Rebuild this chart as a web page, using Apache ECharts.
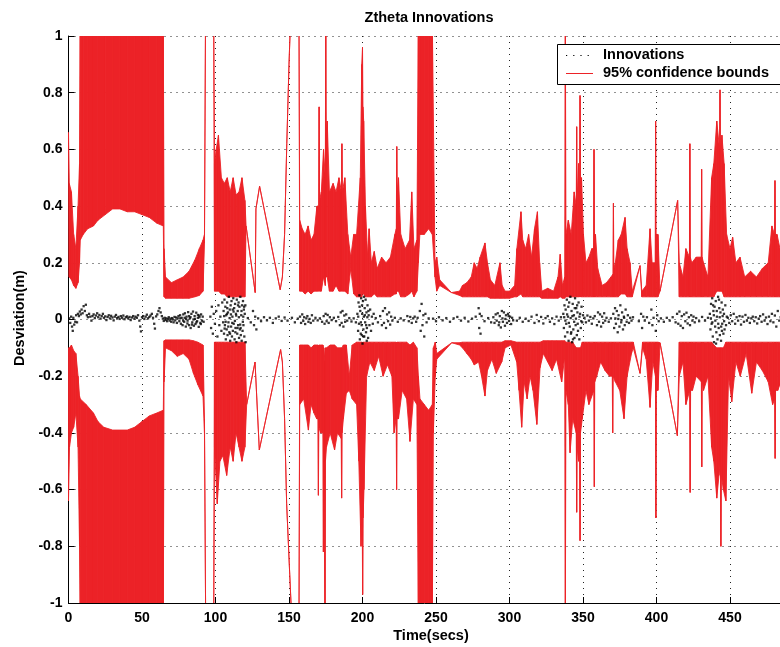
<!DOCTYPE html>
<html>
<head>
<meta charset="utf-8">
<script src="https://cdn.jsdelivr.net/npm/echarts@6/dist/echarts.min.js"></script>
<style>html,body{margin:0;padding:0;background:#fff;}#c{width:780px;height:647px;}</style>
</head>
<body>
<div id="c"></div>
<script>
// ---- data ----
const xTicks = [0, 50, 100, 150, 200, 250, 300, 350, 400, 450, 500];
const yTicks = [-1, -0.8, -0.6, -0.4, -0.2, 0, 0.2, 0.4, 0.6, 0.8, 1];

// upper 95% bound: [time, inner edge of red trace, outer edge of red trace]
const upperBound = [
[0,0.62,0.66],[0.5,0.15,0.48],[2,0.14,0.45],[3.5,0.12,0.3],[5,0.11,0.25],[6.5,0.13,0.4],[7.5,0.2,0.55],
[8,0.28,1.05],[10,0.3,1.05],[13,0.32,1.05],[17,0.33,1.05],[20,0.35,1.05],[25,0.37,1.05],[30,0.39,1.05],
[35,0.39,1.05],[40,0.38,1.05],[45,0.38,1.05],[50,0.37,1.05],[55,0.36,1.05],[60,0.34,1.05],[64.5,0.33,1.05],
[65,0.08,0.25],[66,0.075,0.15],[70,0.075,0.13],[74,0.075,0.14],[78,0.075,0.15],[82,0.075,0.17],[86,0.08,0.21],
[89,0.085,0.25],[91.5,0.1,0.28],[92.5,0.27,0.3],[93.2,1.05,1.05],[98.8,1.05,1.05],
[99.3,0.1,0.55],[100.5,0.1,0.6],[102,0.1,0.65],[104,0.09,0.5],[106,0.09,0.48],[108,0.08,0.5],[110,0.08,0.45],
[112,0.08,0.5],[114,0.08,0.44],[116,0.08,0.45],[118,0.08,0.5],[120,0.08,0.42],
[120.8,0.33,0.33],[127,0.095,0.095],[127.5,0.39,0.39],[130,0.47,0.47],[144,0.105,0.105],[145.5,0.15,0.15],
[147,0.3,0.3],[148.5,0.62,0.62],[150,0.9,0.9],[151,1.05,1.05],[156.8,1.05,1.05],
[157.3,0.1,0.35],[159,0.1,0.32],[161,0.09,0.3],[163,0.1,0.33],[165,0.09,0.28],[167,0.1,0.3],[169,0.1,0.4],
[170.2,0.1,0.4],[170.5,0.12,0.75],[170.8,0.1,0.42],[172,0.1,0.45],[173.5,0.15,0.6],[174.7,0.12,0.5],[175,0.2,1.05],
[175.3,0.15,0.65],[176,0.15,0.7],[177.5,0.1,0.45],[180,0.1,0.48],[182,0.12,0.45],[184,0.1,0.5],[185.7,0.1,0.45],
[186,0.12,0.62],[186.3,0.1,0.45],[188,0.1,0.5],[190,0.09,0.3],[192,0.18,0.22],[194,0.09,0.3],
[196,0.08,0.3],[198.5,0.08,0.5],[199.5,0.08,0.9],[200,0.1,0.96],[200.3,0.09,0.75],[200.8,0.09,0.7],[202,0.08,0.4],
[203.5,0.08,0.22],[204.5,0.08,0.32],[206,0.08,0.2],[208,0.09,0.24],[210,0.08,0.18],[213,0.08,0.22],[216,0.08,0.2],
[219,0.08,0.22],[222,0.09,0.3],[223,0.09,0.32],[223.3,0.1,0.61],[223.6,0.1,0.45],[224.5,0.1,0.5],[226,0.08,0.3],
[229,0.08,0.25],[232,0.09,0.28],[233.5,0.1,0.45],
[235,0.08,0.25],[237,0.1,0.28],[238,0.2,1.05],[239,0.3,1.05],[242,0.3,1.05],[245,0.32,1.05],[247.5,0.3,1.05],
[249.3,0.15,0.2],[250.5,0.1,0.22],[252.5,0.12,0.14],[260.5,0.095,0.095],
[266,0.085,0.1],[268,0.08,0.12],[271,0.08,0.13],[274,0.08,0.15],[276,0.08,0.2],[278,0.08,0.18],[280,0.08,0.22],
[283.3,0.08,0.27],[285,0.08,0.2],[287,0.075,0.14],[290,0.075,0.12],[293.5,0.075,0.2],[295,0.075,0.12],
[297,0.075,0.1],[300,0.075,0.1],[303.5,0.08,0.12],[305,0.08,0.25],[307.8,0.09,0.38],[309,0.08,0.28],
[311,0.08,0.25],[313,0.08,0.3],[315,0.08,0.22],[317,0.08,0.32],[319,0.08,0.38],[320.5,0.08,0.2],[322,0.075,0.1],
[326,0.075,0.11],[330,0.075,0.1],[333,0.075,0.15],[334.5,0.08,0.23],[336,0.075,0.12],[337.6,0.075,0.15],
[338,0.08,1.05],[338.4,0.08,0.3],[340,0.08,0.35],[342,0.08,0.3],[344,0.08,0.45],[345.4,0.08,0.4],[345.7,0.08,0.68],
[346,0.08,0.42],[347,0.08,0.55],[347.7,0.08,0.45],[348,0.09,0.79],[348.3,0.08,0.5],[349,0.08,0.5],[350.3,0.08,0.3],
[352,0.08,0.2],[354,0.08,0.22],[356,0.08,0.25],[357.2,0.08,0.25],[357.5,0.08,0.6],[357.8,0.08,0.28],
[358.5,0.08,0.3],[360,0.08,0.18],[363,0.08,0.12],[366,0.08,0.13],[369,0.08,0.15],[370.4,0.08,0.16],[370.7,0.08,0.41],
[371,0.08,0.18],[372,0.08,0.2],[374,0.08,0.28],[376,0.09,0.3],[378.6,0.09,0.36],[380,0.08,0.25],[382,0.08,0.2],
[383.5,0.08,0.1],[388.8,0.19,0.19],[390,0.08,0.1],[393,0.08,0.12],[395.6,0.08,0.32],[397,0.08,0.2],[399.1,0.08,0.2],
[399.4,0.08,0.7],[399.7,0.08,0.3],[401,0.08,0.3],[402.4,0.1,0.1],
[414.4,0.42,0.42],[415.5,0.08,0.2],[418,0.08,0.15],[420,0.08,0.25],[422.4,0.08,0.22],[422.7,0.08,0.62],[423,0.08,0.22],
[424,0.08,0.2],[427,0.08,0.22],[430.4,0.08,0.22],[430.7,0.08,0.53],[431,0.08,0.22],[432,0.08,0.2],[435,0.08,0.15],
[437.5,0.08,0.5],[439,0.08,0.55],[441,0.1,0.7],[442.9,0.1,0.6],[443.2,0.1,0.81],[443.5,0.1,0.6],
[444.5,0.1,0.65],[446,0.08,0.55],[447.7,0.08,0.3],[450,0.08,0.25],[451.8,0.08,0.29],[454,0.08,0.2],[456.8,0.08,0.22],
[460,0.08,0.15],[464,0.08,0.17],[468,0.08,0.15],[472,0.08,0.18],[476,0.08,0.2],[478.5,0.08,0.33],[480.3,0.08,0.3],
[480.6,0.08,0.49],[480.9,0.08,0.3],[482,0.08,0.3],[484,0.08,0.25],[488,0.08,0.2],[492,0.08,0.22]
];

// lower 95% bound: [time, inner edge, outer edge]
const lowerBound = [
[0,-0.1,-0.64],[0.7,-0.1,-0.45],[2,-0.09,-0.4],[3.5,-0.11,-0.38],[5,-0.12,-0.33],[6.5,-0.2,-0.45],[7.5,-0.27,-0.8],
[8,-0.28,-1.05],[12,-0.3,-1.05],[17,-0.33,-1.05],[20,-0.36,-1.05],[24,-0.38,-1.05],[30,-0.39,-1.05],[35,-0.39,-1.05],
[40,-0.39,-1.05],[45,-0.38,-1.05],[50,-0.36,-1.05],[55,-0.34,-1.05],[60,-0.33,-1.05],[64.5,-0.32,-1.05],
[65,-0.075,-0.22],[66,-0.072,-0.1],[70,-0.072,-0.11],[74,-0.072,-0.13],[78,-0.072,-0.12],[82,-0.072,-0.14],
[85,-0.075,-0.19],[88,-0.08,-0.23],[91.5,-0.09,-0.27],[92.5,-0.35,-0.4],[93.3,-1.05,-1.05],[98.8,-1.05,-1.05],
[99.3,-0.08,-0.45],[101.2,-0.08,-0.65],[103,-0.08,-0.5],[105,-0.08,-0.48],[107.6,-0.08,-0.55],[110,-0.08,-0.45],
[112,-0.08,-0.5],[114,-0.08,-0.4],[116,-0.08,-0.45],[118,-0.08,-0.5],[120,-0.08,-0.45],
[121.2,-0.3,-0.3],[126.9,-0.15,-0.15],[129.8,-0.46,-0.46],[144.3,-0.106,-0.106],[145.5,-0.15,-0.15],
[147,-0.35,-0.35],[148.4,-0.65,-0.65],[150.5,-0.9,-0.9],[151.8,-1.05,-1.05],[156.8,-1.05,-1.05],
[157.3,-0.09,-0.3],[160,-0.09,-0.28],[163.2,-0.09,-0.39],[165,-0.1,-0.3],[167,-0.09,-0.33],[168.8,-0.09,-0.35],
[169.7,-0.09,-0.35],[170,-0.1,-0.62],[170.3,-0.09,-0.38],[171.5,-0.09,-0.4],[173.1,-0.09,-0.4],[173.4,-0.1,-0.82],
[173.7,-0.1,-0.5],[174.5,-0.15,-1.05],[174.8,-0.1,-0.5],[175.5,-0.1,-0.45],[178,-0.09,-0.4],
[181,-0.09,-0.46],[183,-0.1,-0.4],[185.5,-0.1,-0.42],[185.8,-0.1,-0.63],[186.1,-0.1,-0.4],[187,-0.09,-0.35],
[189,-0.09,-0.26],[191,-0.2,-0.25],[193,-0.09,-0.28],[196,-0.08,-0.3],[197.5,-0.08,-0.5],[199,-0.08,-0.8],
[199.8,-0.08,-0.7],[200.1,-0.1,-0.97],[200.4,-0.08,-0.7],[201,-0.08,-0.6],
[202.8,-0.08,-0.2],[205,-0.08,-0.15],[208,-0.08,-0.18],[211,-0.08,-0.13],[214,-0.08,-0.2],[217,-0.08,-0.16],
[220,-0.08,-0.2],[221.5,-0.08,-0.4],[222.9,-0.08,-0.35],[223.2,-0.1,-0.6],[223.5,-0.08,-0.35],[224.5,-0.08,-0.35],
[227,-0.08,-0.25],[230,-0.08,-0.28],
[232.3,-0.09,-0.43],[234.6,-0.08,-0.28],[237,-0.1,-0.3],[238,-0.2,-1.05],[239.1,-0.28,-1.05],[242,-0.3,-1.05],
[245,-0.32,-1.05],[247.5,-0.3,-1.05],[248.2,-0.1,-0.4],[249.5,-0.08,-0.2],[250.5,-0.12,-0.14],[260.7,-0.082,-0.082],
[266,-0.082,-0.09],[268,-0.08,-0.1],[271,-0.08,-0.12],[274,-0.08,-0.14],[276,-0.08,-0.16],[279,-0.08,-0.15],
[281,-0.08,-0.2],[283.3,-0.08,-0.27],[285,-0.08,-0.18],[288,-0.08,-0.14],[291,-0.08,-0.19],[294.7,-0.08,-0.15],
[297,-0.075,-0.1],[301,-0.075,-0.09],[304.9,-0.08,-0.15],[306.5,-0.08,-0.25],[308.3,-0.08,-0.38],[310,-0.08,-0.22],
[312,-0.08,-0.28],[314,-0.08,-0.2],[316,-0.08,-0.25],[318.6,-0.08,-0.37],[320.8,-0.08,-0.17],[323,-0.075,-0.12],
[326,-0.075,-0.15],[329,-0.075,-0.18],[332,-0.075,-0.14],[335.5,-0.075,-0.22],[337.6,-0.075,-0.13],
[338,-0.08,-1.05],[338.4,-0.08,-0.25],[340,-0.08,-0.3],[341.2,-0.08,-0.47],[343,-0.08,-0.35],[345.4,-0.1,-0.4],
[345.7,-0.1,-0.68],[346,-0.1,-0.45],[347,-0.1,-0.5],[347.7,-0.1,-0.45],[348,-0.1,-0.78],[348.3,-0.1,-0.4],
[349.5,-0.08,-0.35],[352,-0.08,-0.25],[354,-0.08,-0.3],[357.4,-0.08,-0.25],[357.7,-0.08,-0.59],[358,-0.08,-0.22],
[359.3,-0.08,-0.2],[362,-0.08,-0.15],[365,-0.08,-0.18],[368,-0.08,-0.2],[369.9,-0.08,-0.2],[370.2,-0.08,-0.4],
[370.5,-0.08,-0.2],[372,-0.08,-0.22],[375,-0.08,-0.25],[377.9,-0.08,-0.35],[380,-0.08,-0.2],[383,-0.08,-0.12],
[384.2,-0.08,-0.1],[388.8,-0.19,-0.19],[390.5,-0.08,-0.1],[393,-0.08,-0.14],[395.6,-0.08,-0.31],[397.5,-0.08,-0.15],
[399.3,-0.08,-0.2],[399.6,-0.08,-0.7],[399.9,-0.08,-0.25],[401,-0.08,-0.25],
[402.4,-0.082,-0.082],[414.2,-0.41,-0.41],[415.5,-0.08,-0.2],[418,-0.08,-0.15],[420,-0.08,-0.3],[422.6,-0.08,-0.25],
[422.9,-0.08,-0.61],[423.2,-0.08,-0.25],[424.5,-0.08,-0.25],[427,-0.08,-0.2],[430.5,-0.08,-0.22],[430.8,-0.08,-0.52],
[431.1,-0.08,-0.22],[432,-0.08,-0.25],[435,-0.08,-0.2],[437.5,-0.08,-0.45],
[439,-0.09,-0.5],[441,-0.1,-0.63],[442.5,-0.1,-0.55],[443.5,-0.1,-0.5],[443.8,-0.1,-0.8],[444.1,-0.1,-0.55],
[445.5,-0.1,-0.6],[447.2,-0.08,-0.64],
[449,-0.08,-0.2],[451.2,-0.08,-0.29],[454,-0.08,-0.15],[457,-0.08,-0.2],[461,-0.08,-0.12],[464.8,-0.08,-0.26],
[468,-0.08,-0.15],[472,-0.08,-0.18],[476,-0.08,-0.22],[479,-0.08,-0.3],[480.4,-0.08,-0.28],[480.7,-0.08,-0.49],
[481,-0.08,-0.25],[482.5,-0.08,-0.25],[486,-0.08,-0.2],[492,-0.08,-0.22]
];

// innovations (black dots): [time, deviation]
const innovations = [
[0.5,0.004],[1.2,-0.012],[1.8,0.01],[2.4,-0.025],[2.9,-0.04],[3.3,0.006],[3.9,-0.018],[4.6,-0.008],[5.2,0.015],[5.8,-0.01],
[6.4,0.02],[7.1,0.012],[7.7,0.028],[8.3,0.018],[8.9,0.035],[9.6,0.022],[10.3,0.047],[11.1,0.03],[11.8,0.052],[12.5,0.015],
[13.2,0.008],[14,0.02],[14.8,0.01],[15.6,-0.004],[16.3,0.012],[17.1,0.018],[17.9,0.005],[18.7,0.014],[19.5,0.022],[20.2,0.008],
[21,0.016],[21.8,0.003],[22.6,0.012],[23.4,0.02],[24.1,0.006],[25,0.011],[25.8,-0.002],[26.6,0.009],[27.4,0.015],[28.2,0.004],
[29,0.013],[29.9,0.007],[30.7,-0.003],[31.5,0.01],[32.3,0.016],[33.1,0.005],[34,0.009],[34.8,0.002],[35.6,0.012],[36.5,0.006],
[37.3,0.014],[38.1,0.001],[39,0.008],[39.8,0.011],[40.6,0.004],[41.5,0.009],[42.3,-0.002],[43.1,0.007],[44,0.012],[44.8,0.003],
[45.6,0.01],[46.5,0.006],[47.3,0.015],[48.2,-0.004],[48.8,-0.025],[49.3,-0.042],[50,0.008],[50.8,0.012],[51.6,0.002],[52.5,0.01],
[53.3,0.017],[54.1,0.004],[55,0.009],[55.8,0.014],[56.7,0.02],[57.5,0.006],[58.3,-0.015],[58.8,-0.032],[59.6,0.011],[60.4,0.018],
[61.2,0.03],[61.9,0.04],[62.7,0.025],[63.5,0.012],[64.2,0.003],
[64.8,-0.005],[65.4,0.006],[66,-0.002],[66.5,0.004],[67.1,-0.006],[67.7,0.002],[68.2,0.008],[68.8,-0.004],[69.3,0.003],[69.9,-0.008],
[70.4,0.005],[71,0.0],[71.5,-0.01],[72.1,0.009],[72.6,-0.003],[73.2,0.007],[73.7,-0.012],[74.3,0.004],[74.8,0.012],[75.4,-0.006],
[75.9,0.015],[76.5,-0.015],[77,0.006],[77.6,-0.02],[78.1,0.018],[78.7,-0.008],[79.2,0.022],[79.8,-0.025],[80.3,0.01],[80.9,-0.014],
[81.4,0.026],[82,-0.02],[82.5,0.004],[83.1,-0.03],[83.6,0.02],[84.2,-0.01],[84.7,0.028],[85.3,-0.022],[85.8,0.012],[86.4,-0.016],
[86.9,0.024],[87.5,-0.006],[88,0.016],[88.6,-0.026],[89.1,0.008],[89.7,-0.012],[90.2,0.018],[90.8,-0.004],[91.3,0.01],[91.9,-0.008],
[76,0.004],[78,-0.004],[80,0.002],[82,0.012],[84,-0.018],[86,0.002],[88,0.006],[90,-0.016],[79,0.006],[81,-0.004],[83,0.008],
[85,0.0],[87,-0.01],[89,0.014],
[96.5,0.01],[97,-0.03],[97.5,0.045],[98.2,-0.05],[98.8,0.02],[99.6,-0.015],[100.5,0.03],[101.3,-0.06],[102,0.05],[102.6,-0.02],
[103.3,0.01],[104,-0.04],[104.6,0.06],[105.2,-0.01],
[105.5,0.03],[105.8,-0.05],[106.1,0.07],[106.4,-0.02],[106.7,0.045],[107,-0.07],[107.3,0.015],[107.6,-0.035],[107.9,0.06],[108.2,-0.055],
[108.5,0.025],[108.8,-0.01],[109.1,0.08],[109.4,-0.045],[109.7,0.035],[110,-0.075],[110.3,0.05],[110.6,-0.025],[110.9,0.065],[111.2,-0.06],
[111.5,0.01],[111.8,-0.04],[112.1,0.075],[112.4,-0.015],[112.7,0.04],[113,-0.07],[113.3,0.055],[113.6,-0.03],[113.9,0.02],[114.2,-0.08],
[114.5,0.07],[114.8,-0.05],[115.1,0.03],[115.4,-0.02],[115.7,0.06],[116,-0.065],[116.3,0.045],[116.6,-0.035],[116.9,0.08],[117.2,-0.055],
[117.5,0.015],[117.8,-0.075],[118.1,0.05],[118.4,-0.04],[118.7,0.065],[119,-0.02],[119.3,0.035],[119.6,-0.06],[119.9,0.02],
[105.9,0.012],[106.9,-0.008],[107.8,0.02],[108.7,-0.025],[109.6,0.005],[110.5,0.018],[111.4,-0.012],[112.3,0.028],[113.2,-0.005],
[114.1,0.014],[115,-0.03],[115.9,0.008],[116.8,-0.018],[117.7,0.03],[118.6,-0.008],[119.5,0.045],[106.2,-0.032],[108,0.04],
[109.9,-0.05],[111.7,0.035],[113.5,-0.045],[115.3,0.05],[117.1,-0.03],[118.9,0.01],[120.5,-0.08],[120.3,0.05],
[122,0.005],[124,-0.01],[125.5,0.03],[126.2,-0.02],[127,0.01],[127.8,-0.035],[129,0.004],[131,-0.006],[133,0.008],[135,-0.003],
[137,0.006],[139,-0.012],[141,0.004],[143,0.01],[145,-0.005],[147,0.007],[149,-0.004],[152,0.006],[154,-0.01],[156,0.003],
[157.5,0.01],[158.2,-0.012],[159,0.018],[159.7,-0.005],[160.3,0.008],[161,-0.016],[161.8,0.004],[162.5,0.012],[163.2,-0.008],
[164,0.002],[164.8,-0.012],[165.6,0.015],[166.5,-0.004],[168,0.006],[169.5,-0.003],
[171,0.004],[172.5,-0.008],[173.6,0.012],[174.2,-0.015],[174.9,0.02],[175.6,-0.006],[176.3,0.016],[177,-0.012],[177.8,0.008],
[179,-0.002],[180.5,0.006],[182,-0.006],[183.5,0.009],[184.6,-0.02],[185.2,0.025],[185.8,-0.012],[186.4,0.03],[187,-0.025],
[187.6,0.014],[188.2,-0.008],[188.9,0.018],[189.6,-0.004],[191,0.005],[192.5,-0.007],[194,0.004],[195.5,-0.01],
[196.5,0.02],[197,-0.04],[197.3,0.06],[197.6,-0.015],[197.9,0.085],[198.2,-0.07],[198.5,0.03],[198.8,-0.05],[199.1,0.075],[199.4,-0.02],
[199.7,0.05],[200,-0.085],[200.3,0.065],[200.6,-0.035],[200.9,0.01],[201.2,-0.06],[201.5,0.04],[201.8,-0.01],[202.1,0.07],[202.4,-0.045],
[202.7,0.025],[203,-0.03],[203.4,0.05],[203.8,-0.065],[204.2,0.015],[204.7,-0.02],[205.2,0.035],[205.8,-0.04],[206.4,0.01],[207,-0.015],
[207.6,0.02],[197.1,0.01],[198,0.045],[198.9,-0.01],[199.8,0.02],[200.7,-0.06],[201.6,0.015],[202.5,-0.02],[203.3,0.008],[204,0.03],
[199.5,-0.055],[201,0.08],[202.9,-0.075],
[209,0.005],[210.5,-0.01],[212,0.012],[213.2,-0.02],[213.9,0.03],[214.6,-0.012],[215.3,0.04],[216,-0.03],[216.7,0.018],[217.4,-0.006],
[218.1,0.025],[218.8,-0.018],[219.5,0.01],[220.3,-0.004],[222,0.006],[224,-0.008],[226,0.004],[228,-0.003],[230.5,0.012],[231.5,-0.006],
[232.5,0.009],[233.5,-0.012],[234.5,0.004],[235.5,0.01],[236.5,-0.008],[237.5,0.006],[239,0.03],[239.6,-0.04],[240.2,0.055],[240.8,-0.02],
[241.4,0.015],[242,-0.06],[242.8,0.02],[243.6,-0.01],[245,0.004],
[248,0.003],[250,-0.006],[252,0.008],[254.5,-0.003],[257,0.005],[259.5,-0.008],[262,0.004],[264.5,0.009],[267,-0.004],[269.5,0.006],
[272,-0.007],[274.5,0.003],[277,0.01],[279,0.04],[279.4,-0.03],[279.8,0.02],[280.3,-0.05],[281,0.012],[283,-0.006],[285.5,0.005],[287.5,-0.01],
[289,0.008],[289.8,-0.012],[290.6,0.018],[291.3,-0.004],[292,0.022],[292.7,-0.02],[293.4,0.012],[294.1,-0.028],[294.8,0.03],[295.5,-0.008],
[296.2,0.025],[296.9,-0.022],[297.6,0.015],[298.3,-0.012],[299,0.02],[299.7,-0.005],[300.4,0.01],[301.1,-0.016],[301.8,0.006],[302.5,-0.003],
[295.2,0.004],[297.2,0.002],[293,-0.01],[299.4,0.012],
[305,-0.004],[307,0.006],[309,-0.008],[311,0.003],[313,-0.005],[315,0.01],[317,-0.012],[318.5,0.016],[320,-0.006],[321.5,0.009],
[323,-0.014],[324.5,0.005],[326,0.012],[327.5,-0.008],[329,0.004],[330.5,-0.016],[332,0.01],[333.5,-0.004],[335,0.008],
[336.6,0.02],[337,-0.03],[337.4,0.05],[337.8,-0.06],[338.2,0.035],[338.6,-0.015],[339,0.07],[339.4,-0.045],[339.8,0.01],[340.2,-0.075],
[340.6,0.06],[341,-0.025],[341.4,0.08],[341.8,-0.05],[342.2,0.03],[342.6,-0.08],[343,0.055],[343.4,-0.035],[343.8,0.015],[344.2,-0.065],
[344.6,0.075],[345,-0.02],[345.4,0.04],[345.8,-0.055],[346.2,0.025],[346.6,-0.04],[347,0.06],[347.5,-0.07],[348,0.02],[348.5,-0.03],
[349,0.045],[349.5,-0.01],[350,0.015],[337.2,0.008],[338,-0.004],[339.2,0.018],[340.4,-0.012],[341.6,0.005],[342.8,0.012],[344,-0.008],
[345.2,0.003],[346.4,-0.015],[347.6,0.01],[348.8,-0.006],[340,0.045],[342,-0.045],[344.4,0.04],[346,0.05],[343.2,-0.07],
[351,0.006],[352,-0.01],[353,0.014],[354,-0.004],[355,0.009],[356,-0.015],[357,0.004],[358,0.012],[359.5,-0.02],[360.2,0.025],
[360.9,-0.008],[361.6,0.018],[362.3,-0.025],[363,0.01],[363.7,-0.012],[364.4,0.022],[365.1,-0.004],[366,0.006],[367.5,-0.008],[369,0.004],
[370.6,0.02],[371.2,-0.03],[371.8,0.04],[372.4,-0.015],[373,0.03],[373.6,-0.045],[374.2,0.015],[374.8,-0.025],[375.4,0.05],[376,-0.01],
[376.6,0.025],[377.2,-0.035],[377.8,0.01],[378.4,-0.02],[379,0.035],[379.7,-0.008],[380.5,0.015],[381.3,-0.012],[382.1,0.006],[383,-0.004],
[384,0.008],[372,0.004],[374,0.002],[376.2,-0.002],[378,0.006],
[388,-0.006],[389.5,0.02],[390.2,-0.03],[391,0.01],[392,-0.004],[393.5,0.008],[395,-0.012],[396.5,0.035],[397.2,-0.02],[398,0.006],
[399.5,-0.04],[400.5,0.015],[401.5,-0.006],[403,0.004],[405,-0.008],[407,0.006],[409,-0.004],[411,0.008],[413,-0.01],[414,0.02],
[414.8,-0.015],[415.6,0.028],[416.4,-0.022],[417.2,0.012],[418,-0.03],[418.8,0.018],[419.6,-0.006],[420.4,0.024],[421.2,-0.014],[422,0.008],
[422.8,-0.02],[423.6,0.015],[424.4,-0.004],[425.2,0.01],[426,-0.01],[427,0.005],[429,-0.006],[431,0.009],[433,-0.004],[435,0.006],
[436.3,0.02],[436.7,-0.035],[437.1,0.055],[437.5,-0.015],[437.9,0.075],[438.3,-0.06],[438.7,0.03],[439.1,-0.08],[439.5,0.045],[439.9,-0.025],
[440.3,0.065],[440.7,-0.045],[441.1,0.01],[441.5,-0.07],[441.9,0.08],[442.3,-0.03],[442.7,0.04],[443.1,-0.055],[443.5,0.025],[443.9,-0.075],
[444.3,0.06],[444.7,-0.015],[445.1,0.035],[445.5,-0.05],[445.9,0.02],[446.3,-0.035],[446.8,0.05],[447.3,-0.02],[447.8,0.01],
[437,0.004],[438,-0.01],[439,0.015],[440,-0.004],[441,0.03],[442,-0.015],[443,0.008],[444,-0.025],[445,0.012],[446,-0.006],
[440.5,-0.085],[442.5,0.07],[444.5,-0.04],[438.5,0.05],
[448.5,0.006],[449.5,-0.012],[450.5,0.015],[451.5,-0.006],[452.5,0.02],[453.5,-0.015],[454.5,0.008],[455.5,-0.004],[456.5,0.012],[457.5,-0.018],
[458.5,0.01],[459.5,-0.008],[460.5,0.016],[461.5,-0.004],[462.5,0.006],[463.5,-0.012],[464.5,0.004],[465.5,0.01],[466.5,-0.006],[467.5,0.008],
[468.5,-0.014],[469.5,0.003],[470.5,0.012],[471.5,-0.008],[472.5,0.018],[473.5,-0.004],[474.5,0.007],[475.5,-0.016],[476.5,0.01],[477.5,-0.006],
[478.5,0.02],[479.5,-0.01],[480.5,0.014],[481.5,-0.025],[482.5,0.03],[483.5,-0.004],[484.5,0.008]
];

const titleText = 'Ztheta Innovations';
const xName = 'Time(secs)';
const yName = 'Desviation(m)';
const legendNames = ['Innovations', '95% confidence bounds'];

// ---- drawing ----
const RED = '#ec2227';
const FONT = '"Liberation Sans", Arial, Helvetica, sans-serif';
const chart = echarts.init(document.getElementById('c'), null, {renderer: 'canvas', width: 780, height: 647});

function bandRenderer(arr) {
  return function (params, api) {
    const i = params.dataIndex;
    if (i >= arr.length - 1) return null;
    const a = arr[i], b = arr[i + 1];
    const pts = [
      api.coord([a[0], a[1]]), api.coord([b[0], b[1]]),
      api.coord([b[0], b[2]]), api.coord([a[0], a[2]])
    ];
    return {
      type: 'polygon',
      shape: {points: pts},
      style: {fill: RED, stroke: RED, lineWidth: 0.9}
    };
  };
}

const axisLabelStyle = {color: '#000', fontFamily: FONT, fontWeight: 'bold', fontSize: 14};

chart.setOption({
  animation: false,
  backgroundColor: '#fff',
  grid: {left: 68.5, top: 36, right: -23.5, bottom: 44, containLabel: false, outerBoundsMode: 'none'},
  xAxis: {
    type: 'value', min: xTicks[0], max: xTicks[xTicks.length - 1], interval: 50,
    axisLine: {show: true, onZero: false, lineStyle: {color: '#000', width: 1}},
    axisTick: {show: true, inside: true, length: 6, lineStyle: {color: '#000'}},
    axisLabel: Object.assign({margin: 8}, axisLabelStyle),
    splitLine: {show: true, lineStyle: {color: '#222', width: 1, type: [1, 5]}}
  },
  yAxis: {
    type: 'value', min: yTicks[0], max: yTicks[yTicks.length - 1], interval: 0.2,
    axisLine: {show: true, onZero: false, lineStyle: {color: '#000', width: 1}},
    axisTick: {show: true, inside: true, length: 6, lineStyle: {color: '#000'}},
    axisLabel: Object.assign({margin: 6}, axisLabelStyle),
    splitLine: {show: true, lineStyle: {color: '#222', width: 1, type: [1, 5]}}
  },
  series: [
    {
      name: legendNames[1] + ' upper', type: 'custom', clip: true, silent: true,
      renderItem: bandRenderer(upperBound), data: upperBound,
      encode: {x: 0, y: [1, 2]}, z: 2
    },
    {
      name: legendNames[1] + ' lower', type: 'custom', clip: true, silent: true,
      renderItem: bandRenderer(lowerBound), data: lowerBound,
      encode: {x: 0, y: [1, 2]}, z: 2
    },
    {
      name: legendNames[0], type: 'scatter', silent: true, data: innovations,
      symbol: 'rect', symbolSize: 2.3, itemStyle: {color: '#000'}, z: 3
    }
  ],
  graphic: [
    {type: 'text', x: 429, y: 18, z: 10,
      style: {text: titleText, fill: '#000', font: 'bold 14.5px ' + FONT, textAlign: 'center', textVerticalAlign: 'middle'}},
    {type: 'text', x: 431, y: 636, z: 10,
      style: {text: xName, fill: '#000', font: 'bold 14.5px ' + FONT, textAlign: 'center', textVerticalAlign: 'middle'}},
    {type: 'text', x: 20, y: 318, rotation: Math.PI / 2, z: 10,
      style: {text: yName, fill: '#000', font: 'bold 14.5px ' + FONT, textAlign: 'center', textVerticalAlign: 'middle'}},
    {type: 'rect', z: 20, shape: {x: 557.5, y: 44.5, width: 240, height: 40},
      style: {fill: '#fff', stroke: '#000', lineWidth: 1}},
    {type: 'line', z: 21, shape: {x1: 566, y1: 55.5, x2: 592, y2: 55.5},
      style: {stroke: '#000', lineWidth: 1.2, lineDash: [1.2, 6]}},
    {type: 'line', z: 21, shape: {x1: 566, y1: 73.5, x2: 593, y2: 73.5},
      style: {stroke: RED, lineWidth: 1}},
    {type: 'text', x: 603, y: 55, z: 21,
      style: {text: legendNames[0], fill: '#000', font: 'bold 14.5px ' + FONT, textAlign: 'left', textVerticalAlign: 'middle'}},
    {type: 'text', x: 603, y: 73, z: 21,
      style: {text: legendNames[1], fill: '#000', font: 'bold 14.5px ' + FONT, textAlign: 'left', textVerticalAlign: 'middle'}}
  ]
});
</script>
</body>
</html>
